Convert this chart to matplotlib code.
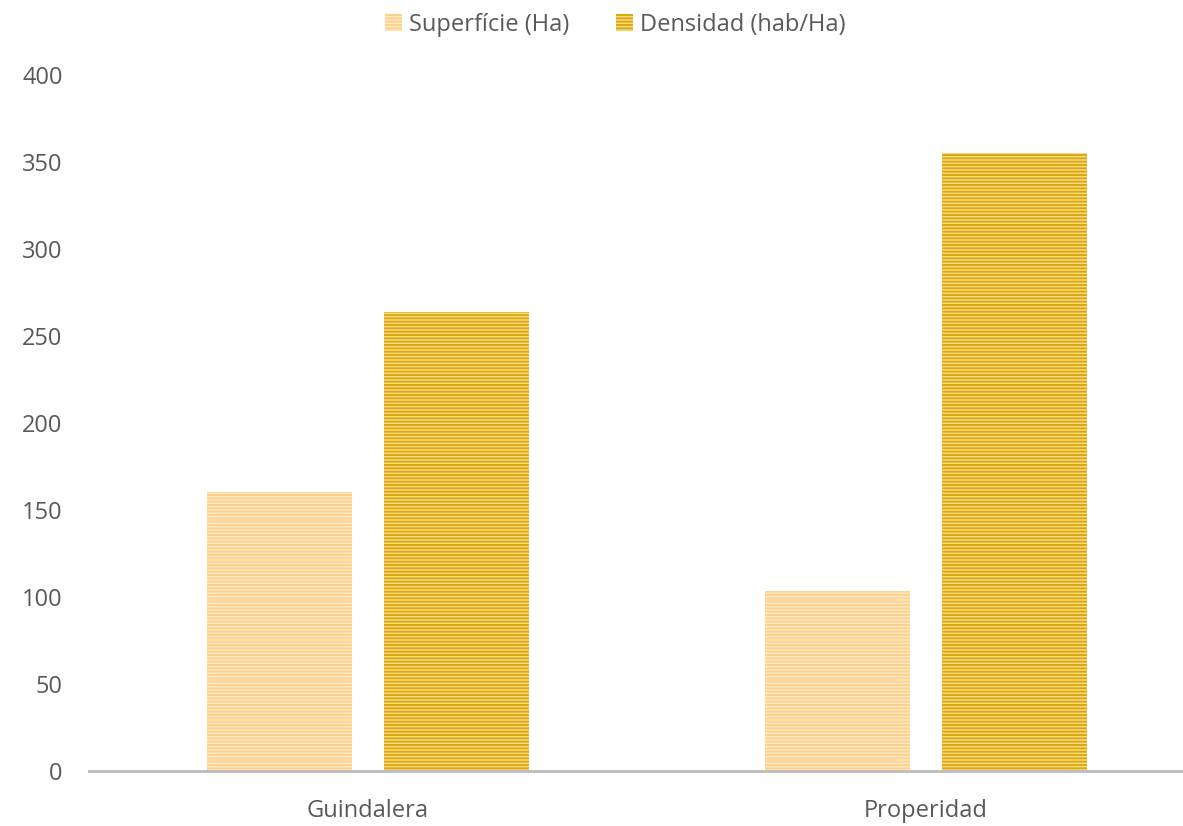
import matplotlib.pyplot as plt
import numpy as np

categories = ["Guindalera", "Properidad"]
superficie = [160.5, 103.5]
densidad = [264.0, 355.0]
series_names = ["Superfície (Ha)", "Densidad (hab/Ha)"]

plt.rcParams["font.family"] = ["Open Sans", "DejaVu Sans"]
plt.rcParams["hatch.linewidth"] = 1.4

fig = plt.figure(figsize=(11.83, 8.26), dpi=100)
# axes runs past the right edge, like the cropped original
ax = fig.add_axes([0.0752, 0.0666, 0.9434, 0.8426])

x = np.arange(len(categories))
w = 0.26
off = 0.158

b1 = ax.bar(x - off, superficie, w, color="#FFEBC6", edgecolor="#FFD08A",
            linewidth=0, hatch="-----", label=series_names[0])
b2 = ax.bar(x + off, densidad, w, color="#FADE80", edgecolor="#DCA715",
            linewidth=0, hatch="-----", label=series_names[1])

ax.set_xlim(-0.5, 1.5)
ax.set_ylim(0, 400)
ax.set_yticks(range(0, 401, 50))
ax.set_xticks(x)
ax.set_xticklabels(categories)

for s in ["top", "right", "left"]:
    ax.spines[s].set_visible(False)
ax.spines["bottom"].set_color("#BFBFBF")
ax.spines["bottom"].set_linewidth(2.2)
ax.tick_params(axis="both", length=0, labelsize=17, colors="#595959")
ax.tick_params(axis="y", pad=19)
ax.tick_params(axis="x", pad=20)

fig.legend(handles=[b1, b2], loc="upper center", bbox_to_anchor=(0.52, 1.01),
           ncol=2, frameon=False, fontsize=17, labelcolor="#595959",
           handlelength=0.7, handleheight=0.7, handletextpad=0.3,
           columnspacing=2.0)

plt.savefig("out.png", dpi=100)
